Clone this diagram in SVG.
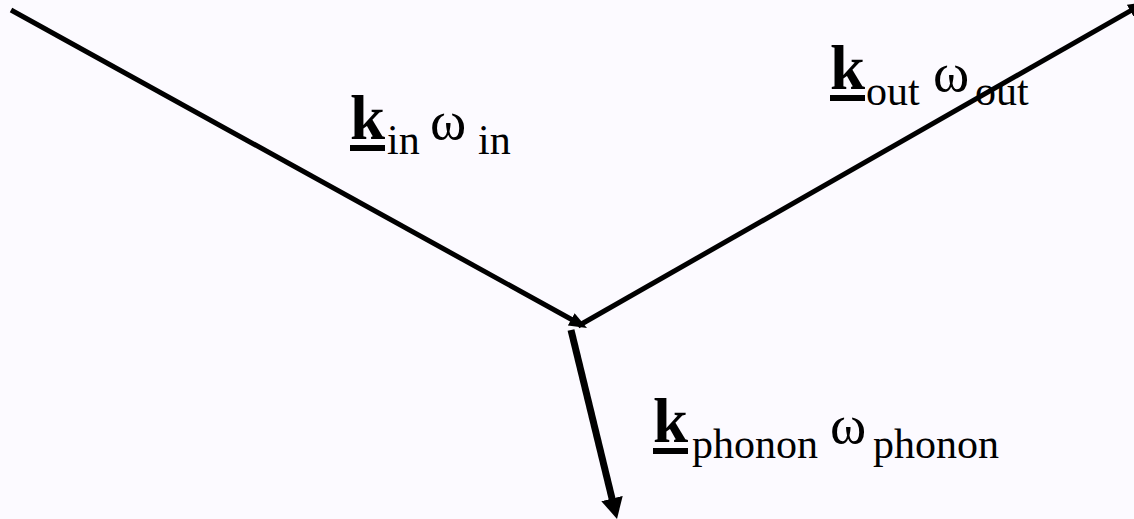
<svg xmlns="http://www.w3.org/2000/svg" width="1134" height="519" viewBox="0 0 1134 519">
  <style>
    text { font-family: "Liberation Serif", "Times New Roman", serif; fill: #000; }
    .k { font-size: 63px; font-weight: bold; }
    .w { font-size: 55px; }
    .s { font-size: 42px; }
    .ul { fill: #000; }
    .conn { stroke: #000; fill: none; stroke-linecap: butt; }
  </style>
  <defs>
    <marker id="ah" markerUnits="userSpaceOnUse" markerWidth="20" markerHeight="16" refX="2" refY="7" orient="auto">
      <path d="M0,0 L18,7 L0,14 z" fill="#000"/>
    </marker>
    <marker id="ahBig" markerUnits="userSpaceOnUse" markerWidth="24" markerHeight="24" refX="2" refY="11" orient="auto">
      <path d="M0,0 L21,11 L0,22 z" fill="#000"/>
    </marker>
  </defs>
  <rect width="1134" height="519" fill="#fcfaff"/>
  <g id="connectors">
    <line id="k-in" class="conn" x1="11" y1="10" x2="573" y2="320.3" stroke-width="5" marker-end="url(#ah)"/>
    <line id="k-out" class="conn" x1="578" y1="326" x2="1132.1" y2="9.9" stroke-width="5" marker-end="url(#ah)"/>
    <line id="k-phonon" class="conn" x1="571" y1="330" x2="612.5" y2="500.5" stroke-width="7" marker-end="url(#ahBig)"/>
  </g>
  <g id="label-in">
    <text class="k" x="350" y="139">k</text>
    <rect class="ul" x="350" y="145" width="35" height="6"/>
    <text class="s" x="387" y="154">in</text>
    <text class="w" x="430" y="139">ω</text>
    <text class="s" x="478" y="154">in</text>
  </g>
  <g id="label-out">
    <text class="k" x="830" y="89">k</text>
    <text class="s" x="866" y="105">out</text>
    <rect class="ul" x="830" y="95" width="35" height="6"/>
    <text class="w" x="933" y="91">ω</text>
    <text class="s" x="975" y="105">out</text>
  </g>
  <g id="label-phonon">
    <text class="k" x="653" y="442">k</text>
    <rect class="ul" x="653" y="448" width="35" height="6"/>
    <text class="s" x="692" y="458">phonon</text>
    <text class="w" x="830" y="443">ω</text>
    <text class="s" x="873" y="458">phonon</text>
  </g>
</svg>
